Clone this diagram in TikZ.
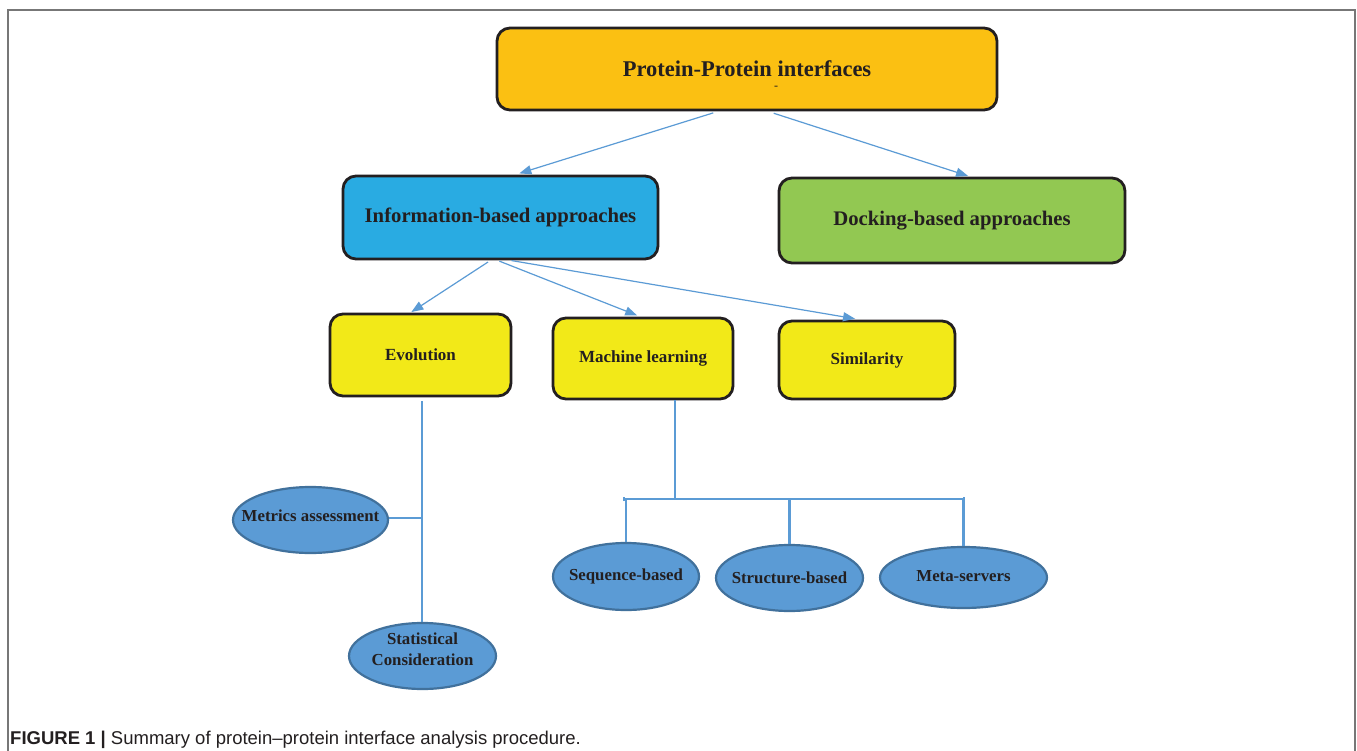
\documentclass[tikz,border=0pt]{standalone}
\usepackage{fontspec}
\setmainfont{Liberation Serif}
\setsansfont{Liberation Sans}
\usetikzlibrary{arrows.meta,shapes.geometric}
\definecolor{topfill}{HTML}{FBC012}
\definecolor{infofill}{HTML}{29ABE2}
\definecolor{dockfill}{HTML}{92C852}
\definecolor{yelfill}{HTML}{F2E918}
\definecolor{ellfill}{HTML}{5B9BD5}
\definecolor{ellline}{HTML}{41719C}
\definecolor{boxline}{HTML}{231F20}
\definecolor{txt}{HTML}{231F20}
\definecolor{arrc}{HTML}{5B9BD5}
\definecolor{framec}{HTML}{777777}
\tikzset{
  box/.style={rectangle, draw=boxline, line width=2.8pt, rounded corners=13pt, text=txt, inner sep=0pt, align=center},
  bigtxt/.style={font=\fontsize{22.5}{27}\selectfont\bfseries},
  midtxt/.style={font=\fontsize{20.7}{25}\selectfont\bfseries},
  smalltxt/.style={font=\fontsize{17}{20}\selectfont\bfseries},
  ell/.style={ellipse, draw=ellline, line width=2.2pt, fill=ellfill, inner sep=0pt},
  elltxt/.style={inner sep=0pt, text=txt, align=center, font=\fontsize{16.8}{21}\selectfont\bfseries},
  arr/.style={draw=arrc, line width=1.2pt, -{Triangle[length=12pt,width=9pt]}},
  tree/.style={draw=arrc, line width=2.5pt},
  thintree/.style={draw=arrc, line width=1.5pt}
}
\begin{document}
\begin{tikzpicture}[x=1pt,y=-1pt]
\useasboundingbox (0,0) rectangle (1357,751);
\fill[white] (0,0) rectangle (1357,751);
\draw[framec, line width=1.6pt] (8,751) -- (8,10) -- (1355,10) -- (1355,751);

% boxes
\node[box, bigtxt, fill=topfill, minimum width=500pt, minimum height=82pt] (top) at (747,69) {Protein-Protein interfaces};
\node[font=\fontsize{12}{14}\selectfont, text=txt] (dash) at (776,88) {-};
\node[box, midtxt, fill=infofill, minimum width=315pt, minimum height=83pt] (info) at (500.5,217.5) {Information-based approaches};
\node[box, midtxt, fill=dockfill, minimum width=346pt, minimum height=85pt] (dock) at (952,220.5) {Docking-based approaches};
\node[box, smalltxt, fill=yelfill, minimum width=181pt, minimum height=82pt] (evo) at (420.5,355) {Evolution};
\node[box, smalltxt, fill=yelfill, minimum width=180pt, minimum height=81pt] (ml) at (643,358.5) {Machine learning};
\node[box, smalltxt, fill=yelfill, minimum width=176pt, minimum height=78pt] (sim) at (867,360) {Similarity};

% ellipses
\node[ell, minimum width=155pt, minimum height=66pt] (metrics) at (310.5,520) {};
\node[elltxt] (metricst) at ([yshift=4pt]metrics.center) {Metrics assessment};
\node[ell, minimum width=147pt, minimum height=66pt] (stat) at (422.5,656) {};
\node[elltxt] (statt) at ([yshift=7pt]stat.center) {Statistical\\Consideration};
\node[ell, minimum width=146pt, minimum height=67pt] (seq) at (626,576.5) {};
\node[elltxt] (seqt) at ([yshift=0pt]seq.center) {Sequence-based};
\node[ell, minimum width=147pt, minimum height=66pt] (struct) at (789.5,578) {};
\node[elltxt] (structt) at ([yshift=0pt]struct.center) {Structure-based};
\node[ell, minimum width=167pt, minimum height=61pt] (meta) at (963.5,577.5) {};
\node[elltxt] (metat) at ([yshift=1pt]meta.center) {Meta-servers};

% arrows
\draw[arr, shorten <=5pt, shorten >=4pt] ([xshift=-29pt]top.south) -- ([xshift=15pt]info.north);
\draw[arr, shorten <=6pt, shorten >=2pt] ([xshift=21pt]top.south) -- ([xshift=18pt]dock.north);
\draw[arr, shorten <=3pt, shorten >=1pt] ([xshift=-10pt]info.south) -- ([xshift=-10pt]evo.north);
\draw[arr, shorten <=2pt, shorten >=3pt] ([xshift=-3pt]info.south) -- ([xshift=-3pt]ml.north);
\draw[arr, shorten <=1pt, shorten >=5pt] ([xshift=10pt]info.south) -- ([xshift=-7pt]sim.north);

% evolution tree
\coordinate (evoj) at (422,518);
\draw[tree] ([yshift=-4pt]evo.south -| evoj) -- (stat.north -| evoj);
\draw[tree] (metrics.east |- evoj) -- (evoj);

% machine learning tree
\coordinate (mlj) at (675,499);
\coordinate (barl) at (624,499);
\coordinate (barr) at (964,499);
\draw[thintree] (ml.south -| mlj) -- (mlj);
\draw[tree] (barl) -- (barr);
\draw[thintree] ([yshift=-2pt]barl) -- ([yshift=2pt]barl);
\draw[thintree] ([yshift=-2pt]barr) -- ([yshift=2pt]barr);
\draw[tree] (seq.north |- barl) -- (seq.north);
\draw[tree] (struct.north |- barl) -- (struct.north);
\draw[tree] (meta.north |- barl) -- (meta.north);

% caption
\node[anchor=base west, inner sep=0pt, text=txt, font=\sffamily\fontsize{18.5}{22}\selectfont] (cap) at (10,744) {\textbf{FIGURE 1 |} Summary of protein–protein interface analysis procedure.};
\end{tikzpicture}
\end{document}
